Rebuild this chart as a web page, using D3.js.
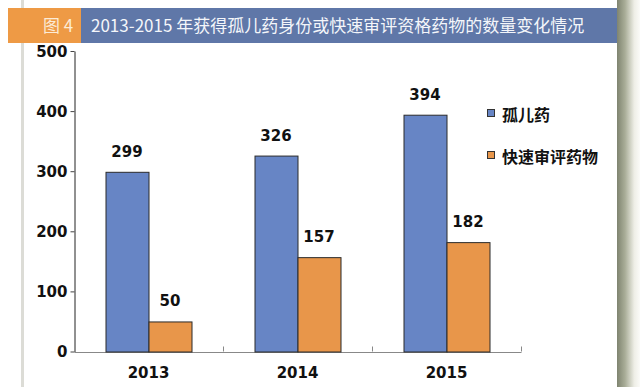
<!DOCTYPE html>
<html>
<head>
<meta charset="utf-8">
<script src="https://cdn.jsdelivr.net/npm/d3@7"></script>
<style>
  body { margin: 0; background: #fff; }
  svg { display: block; }
</style>
</head>
<body>
<div id="chart"></div>
<script>
// data
var years = ['2013', '2014', '2015']
var seriesNames = ['孤儿药', '快速审评药物']
var orphan = [299, 326, 394]
var fastTrack = [50, 157, 182]
var yTicks = [0, 100, 200, 300, 400, 500]

var width = 640
var height = 387
var colors = ['#6785C5', '#E8964A']

var svg = d3.select('#chart')
  .append('svg')
  .attr('width', width)
  .attr('height', height)

// page frame: thin grey line on the left, shaded edge on the right
var defs = svg.append('defs')
var grad = defs.append('linearGradient').attr('id', 'edge')
grad.append('stop').attr('offset', '0%').attr('stop-color', '#7f8470')
grad.append('stop').attr('offset', '35%').attr('stop-color', '#a9ad98')
grad.append('stop').attr('offset', '75%').attr('stop-color', '#eeeee6')
grad.append('stop').attr('offset', '100%').attr('stop-color', '#fbfbf8')

svg.append('rect').attr('x', 21).attr('y', 0).attr('width', 3).attr('height', height).attr('fill', '#dcdcd6')
svg.append('rect').attr('x', 617).attr('y', 0).attr('width', 23).attr('height', height).attr('fill', 'url(#edge)')

// title bar
svg.append('rect').attr('x', 8).attr('y', 8).attr('width', 73).attr('height', 35).attr('fill', '#EE9A45')
svg.append('rect').attr('x', 81).attr('y', 8).attr('width', 536).attr('height', 35).attr('fill', '#5F77A8')
svg.append('text')
  .attr('x', 43).attr('y', 32)
  .attr('fill', '#FCEBD6')
  .style('font-family', '"Noto Sans CJK SC", sans-serif')
  .style('font-size', '17px')
  .text('图 4')
svg.append('text')
  .attr('x', 91).attr('y', 32)
  .attr('fill', '#F4F6FA')
  .style('font-family', '"Noto Sans CJK SC", sans-serif')
  .style('font-size', '17px')
  .text('2013-2015 年获得孤儿药身份或快速审评资格药物的数量变化情况')

// scales
var x0 = d3.scaleBand().domain(years).range([74, 521]).padding(0)
var x1 = d3.scaleBand().domain(seriesNames).range([0, 86]).padding(0)
var y = d3.scaleLinear().domain([0, 500]).range([351.5, 51])

var numFont = '"DejaVu Sans", sans-serif'

// y axis
var yAxis = svg.append('g')
  .attr('transform', 'translate(74.5,0)')
  .call(d3.axisLeft(y).tickValues(yTicks).tickSize(4).tickSizeOuter(0))
yAxis.select('.domain').attr('stroke', '#222')
yAxis.selectAll('.tick line').attr('stroke', '#444')
yAxis.selectAll('.tick text')
  .attr('x', -7)
  .attr('dy', '0.36em')
  .style('font-family', numFont)
  .style('font-weight', 'bold')
  .style('font-size', '15px')
  .attr('fill', '#111')

// x axis
var xAxis = svg.append('g')
  .attr('transform', 'translate(0,' + (y(0) + 0.5) + ')')
  .call(d3.axisBottom(x0).tickSize(0).tickSizeOuter(0))
xAxis.select('.domain').attr('stroke', '#888')
xAxis.selectAll('.tick text')
  .attr('y', 15)
  .style('font-family', numFont)
  .style('font-weight', 'bold')
  .style('font-size', '15px')
  .attr('fill', '#111')

// category boundary marks
svg.selectAll('.sep')
  .data(years)
  .enter()
  .append('line')
  .attr('x1', function (d) { return x0(d) + x0.bandwidth() + 0.5 })
  .attr('x2', function (d) { return x0(d) + x0.bandwidth() + 0.5 })
  .attr('y1', y(0) - 5)
  .attr('y2', y(0))
  .attr('stroke', '#888')

// bars
var rows = years.map(function (yr, i) {
  return { year: yr, values: [orphan[i], fastTrack[i]] }
})

var groups = svg.selectAll('.grp')
  .data(rows)
  .enter()
  .append('g')
  .attr('transform', function (d) {
    return 'translate(' + (x0(d.year) + (x0.bandwidth() - 86) / 2) + ',0)'
  })

groups.selectAll('rect')
  .data(function (d) { return d.values })
  .enter()
  .append('rect')
  .attr('x', function (d, i) { return x1(seriesNames[i]) + 0.5 })
  .attr('y', function (d) { return y(d) + 0.5 })
  .attr('width', x1.bandwidth())
  .attr('height', function (d) { return y(0) - y(d) })
  .attr('fill', function (d, i) { return colors[i] })
  .attr('stroke', '#2b2b2b')
  .attr('stroke-width', 1)

groups.selectAll('.lbl')
  .data(function (d) { return d.values })
  .enter()
  .append('text')
  .attr('x', function (d, i) { return x1(seriesNames[i]) + x1.bandwidth() / 2 })
  .attr('y', function (d) { return y(d) - 15 })
  .attr('text-anchor', 'middle')
  .style('font-family', numFont)
  .style('font-weight', 'bold')
  .style('font-size', '15px')
  .attr('fill', '#111')
  .text(function (d) { return d })

// legend
var legend = svg.selectAll('.leg')
  .data(seriesNames)
  .enter()
  .append('g')
  .attr('transform', function (d, i) { return 'translate(487,' + (109 + i * 42) + ')' })

legend.append('rect')
  .attr('x', 0.5).attr('y', 0.5)
  .attr('width', 7).attr('height', 7)
  .attr('fill', function (d, i) { return colors[i] })
  .attr('stroke', '#333')

legend.append('text')
  .attr('x', 15)
  .attr('y', 12)
  .style('font-family', '"Noto Sans CJK SC", sans-serif')
  .style('font-weight', 'bold')
  .style('font-size', '16px')
  .attr('fill', '#111')
  .text(function (d) { return d })
</script>
</body>
</html>
